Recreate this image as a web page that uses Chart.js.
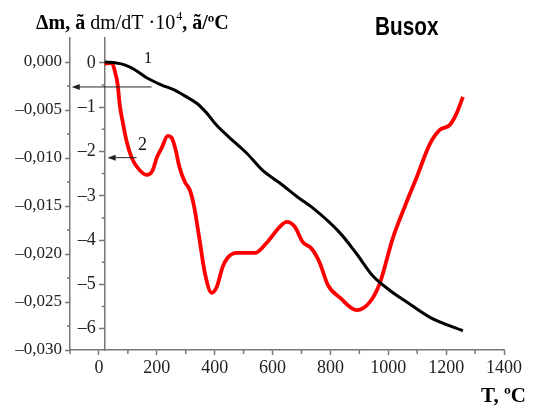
<!DOCTYPE html>
<html>
<head>
<meta charset="utf-8">
<style>
html, body { margin: 0; padding: 0; background: #fff; }
#wrap { width: 536px; height: 410px; }
</style>
</head>
<body>
<div id="wrap"><canvas id="tgChart"></canvas></div>
<script src="https://cdn.jsdelivr.net/npm/chart.js@4/dist/chart.umd.min.js"></script>
<script>
// curve 1 - mass loss (outer left axis)
const tgTemp = [20, 60, 89, 124, 168, 217, 260, 295, 338, 372, 407, 452, 511, 566, 625, 688, 739, 833, 891,
                947, 1006, 1064, 1144, 1258];
const tgMass = [0, -0.0001, -0.0003, -0.0008, -0.0017, -0.0024, -0.0029, -0.0035, -0.0043, -0.0053, -0.0066,
                -0.0079, -0.0095, -0.0113, -0.0126, -0.0141, -0.0152, -0.0178, -0.0200, -0.0223,
                -0.0238, -0.0250, -0.0266, -0.0280];

// curve 2 - dm/dT * 10^4 (inner axis)
const dtgTemp = [20, 44, 54, 65, 72, 82, 96, 113, 134, 165, 186, 200, 217, 238, 251, 265, 279, 297, 314, 328,
                 348, 366, 390, 407, 428, 445, 476, 539, 580, 625, 649, 677, 704, 736, 763, 791, 833, 891,
                 936, 971, 1016, 1058, 1099, 1144, 1179, 1213, 1237, 1258];
const dtgRate = [-0.02, 0, -0.16, -0.50, -0.95, -1.33, -1.78, -2.14, -2.37, -2.53, -2.42, -2.14, -1.92, -1.65,
                 -1.69, -1.96, -2.37, -2.69, -2.87, -3.21, -4.00, -4.74, -5.19, -5.06, -4.60, -4.40, -4.29,
                 -4.29, -4.06, -3.70, -3.59, -3.70, -4.04, -4.20, -4.51, -5.01, -5.30, -5.58, -5.40, -4.97,
                 -3.95, -3.23, -2.57, -1.83, -1.51, -1.40, -1.13, -0.77];

// tick values
const tempTicks = [0, 200, 400, 600, 800, 1000, 1200, 1400];
const tempMinor = [-100, 100, 300, 500, 700, 900, 1100, 1300];
const massTicks = [0, -0.005, -0.010, -0.015, -0.020, -0.025, -0.030];
const massMinor = [-0.0025, -0.0075, -0.0125, -0.0175, -0.0225, -0.0275];
const rateTicks = [0, -1, -2, -3, -4, -5, -6];
const rateMinor = [-0.5, -1.5, -2.5, -3.5, -4.5, -5.5];

const axisColor = '#777';
const serif = 'Liberation Serif';

function fmtMass(v) {
    if (v === 0) return '0,000';
    return '\u2013' + Math.abs(v).toFixed(3).replace('.', ',');
}
// inner axis labels sit on the axis line, the en space keeps them clear of the ticks
function fmtRate(v) {
    return (v === 0 ? '0' : '\u2013' + Math.abs(v)) + '\u2002';
}

function arrow(ctx, x1, y1, x2, y2) {
    ctx.beginPath();
    ctx.moveTo(x1, y1);
    ctx.lineTo(x2 + 6, y2);
    ctx.stroke();
    ctx.beginPath();
    ctx.moveTo(x2, y2);
    ctx.lineTo(x2 + 8, y2 - 3);
    ctx.lineTo(x2 + 8, y2 + 3);
    ctx.closePath();
    ctx.fill();
}

// minor ticks, arrows, captions
const decor = {
    id: 'decor',
    afterDraw(chart) {
        const { ctx } = chart;
        const sx = chart.scales.x, sm = chart.scales.ym, sr = chart.scales.yr;
        const xb = sx.top, mb = sm.right, rb = sx.getPixelForValue(20);

        ctx.save();
        ctx.strokeStyle = axisColor;
        ctx.lineWidth = 1.5;
        ctx.beginPath();
        tempMinor.forEach(v => {
            const p = sx.getPixelForValue(v);
            ctx.moveTo(p, xb); ctx.lineTo(p, xb + 4);
        });
        massMinor.forEach(v => {
            const p = sm.getPixelForValue(v);
            ctx.moveTo(mb, p); ctx.lineTo(mb - 3, p);
        });
        rateMinor.forEach(v => {
            const p = sr.getPixelForValue(v);
            ctx.moveTo(rb, p); ctx.lineTo(rb - 3, p);
        });
        ctx.stroke();

        // arrows pointing each curve to its axis
        ctx.strokeStyle = '#222';
        ctx.fillStyle = '#222';
        ctx.lineWidth = 1;
        const a1 = sm.getPixelForValue(-0.0026);
        arrow(ctx, sx.getPixelForValue(182), a1, sx.getPixelForValue(-94), a1);
        const a2 = sr.getPixelForValue(-2.14);
        arrow(ctx, sx.getPixelForValue(130), a2, sx.getPixelForValue(30), a2);

        ctx.fillStyle = '#111';
        ctx.textAlign = 'center';
        ctx.textBaseline = 'middle';
        ctx.font = '17px "' + serif + '"';
        ctx.fillText('1', sx.getPixelForValue(170), sm.getPixelForValue(0.0004));
        ctx.font = '18px "' + serif + '"';
        ctx.fillText('2', sx.getPixelForValue(151), sr.getPixelForValue(-1.85));

        // axis caption at the top
        ctx.textAlign = 'left';
        ctx.textBaseline = 'alphabetic';
        ctx.fillStyle = '#000';
        let tx = 36;
        const ty = 29;
        ctx.font = 'bold 20px "' + serif + '"';
        ctx.fillText('\u0394m, \u00e3', tx, ty);
        tx += ctx.measureText('\u0394m, \u00e3').width + 5;
        ctx.font = '20px "' + serif + '"';
        ctx.fillText('dm/dT \u00b710', tx, ty);
        tx += ctx.measureText('dm/dT \u00b710').width + 1;
        ctx.font = '12px "' + serif + '"';
        ctx.fillText('4', tx, ty - 9);
        tx += ctx.measureText('4').width;
        ctx.font = 'bold 20px "' + serif + '"';
        ctx.fillText(', \u00e3/\u00baC', tx, ty);

        // sample name
        ctx.save();
        ctx.translate(375, 35);
        ctx.scale(0.83, 1);
        ctx.font = 'bold 25px "Liberation Sans"';
        ctx.fillText('Busox', 0, 0);
        ctx.restore();

        // x axis caption
        ctx.textAlign = 'right';
        ctx.font = 'bold 21px "' + serif + '"';
        ctx.fillText('T, \u00baC', 526, 402);
        ctx.restore();
    }
};

new Chart(document.getElementById('tgChart'), {
    type: 'line',
    data: {
        datasets: [{
            label: '1',
            data: tgTemp.map((t, i) => ({ x: t, y: tgMass[i] })),
            yAxisID: 'ym',
            borderColor: '#000',
            borderWidth: 3,
            pointRadius: 0,
            cubicInterpolationMode: 'monotone',
            fill: false
        }, {
            label: '2',
            data: dtgTemp.map((t, i) => ({ x: t, y: dtgRate[i] })),
            yAxisID: 'yr',
            borderColor: '#ff0000',
            borderWidth: 3.8,
            pointRadius: 0,
            cubicInterpolationMode: 'monotone',
            fill: false
        }]
    },
    options: {
        responsive: true,
        maintainAspectRatio: false,
        animation: false,
        layout: { padding: { top: 38, right: 32, left: 0, bottom: 0 } },
        plugins: { legend: { display: false }, tooltip: { enabled: false } },
        scales: {
            x: {
                type: 'linear',
                position: 'bottom',
                min: -100,
                max: 1400,
                afterBuildTicks: s => { s.ticks = tempTicks.map(v => ({ value: v })); },
                afterFit: s => { s.height = 60; },
                grid: { drawOnChartArea: false, tickLength: 5, color: axisColor, tickWidth: 1.5 },
                border: { color: axisColor, width: 1.5 },
                ticks: { font: { family: serif, size: 18 }, color: '#222', padding: 2, maxRotation: 0,
                         callback: v => String(v) }
            },
            ym: {
                type: 'linear',
                axis: 'y',
                position: 'left',
                min: -0.030,
                max: 0.0025,
                afterBuildTicks: s => { s.ticks = massTicks.map(v => ({ value: v })); },
                afterFit: s => { s.width = 70; },
                grid: { drawOnChartArea: false, tickLength: 5, color: axisColor, tickWidth: 1.5 },
                border: { color: axisColor, width: 1.5 },
                ticks: { font: { family: serif, size: 17 }, color: '#222', padding: 3, callback: fmtMass }
            },
            yr: {
                type: 'linear',
                axis: 'y',
                position: { x: 20 },
                min: -6.48,
                max: 0.56,
                afterBuildTicks: s => { s.ticks = rateTicks.map(v => ({ value: v })); },
                grid: { drawOnChartArea: false, tickLength: 5, color: axisColor, tickWidth: 1.5 },
                border: { color: axisColor, width: 1.5 },
                ticks: { font: { family: serif, size: 18 }, color: '#222', padding: 3, callback: fmtRate }
            }
        }
    },
    plugins: [decor]
});
</script>
</body>
</html>
